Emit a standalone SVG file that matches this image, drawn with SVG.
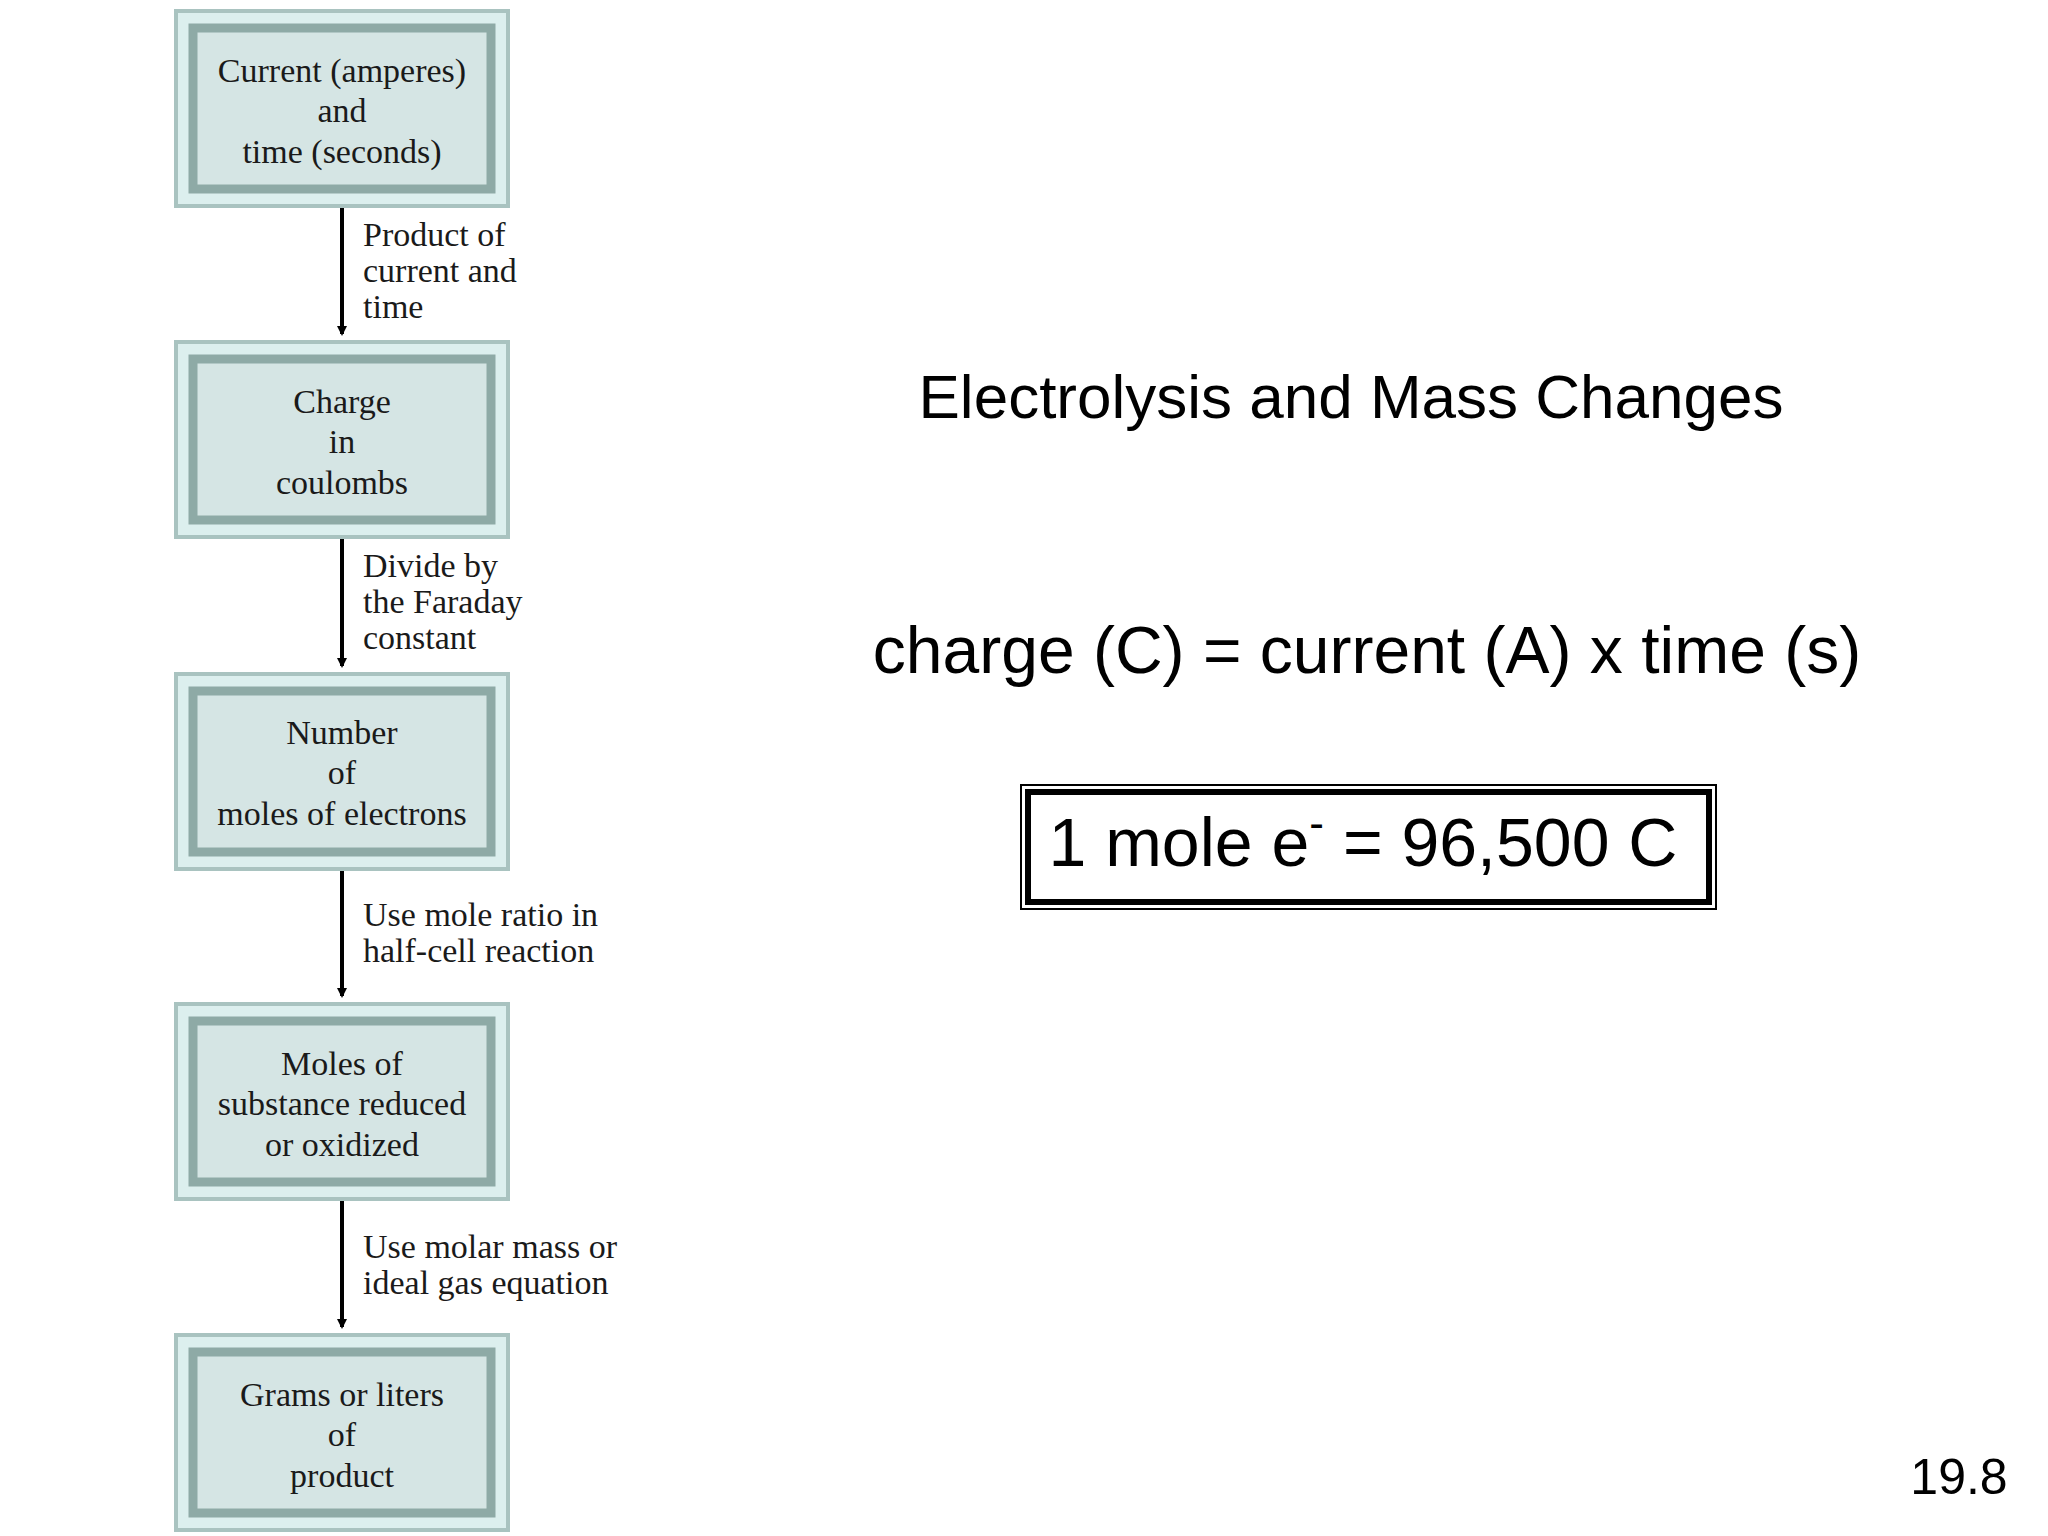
<svg xmlns="http://www.w3.org/2000/svg" width="2048" height="1536" viewBox="0 0 2048 1536">
<defs>
<style>
.o{fill:#dcefee;stroke:#a9c3c0;stroke-width:4}
.i{fill:#d5e5e4;stroke:#8eaaa6;stroke-width:9}
.bt{font-family:"Liberation Serif",serif;font-size:34px;fill:#1a1a1a;text-anchor:middle}
.lt{font-family:"Liberation Serif",serif;font-size:34px;fill:#1a1a1a}
.s{font-family:"Liberation Sans",Arial,sans-serif;fill:#000}
.c{stroke:#000;stroke-width:4;fill:none}
</style>
<marker id="ah" markerWidth="10" markerHeight="10" refX="8" refY="5" orient="auto" markerUnits="userSpaceOnUse" viewBox="0 0 10 10"><path d="M0,0 L10,5 L0,10 z" fill="#000"/></marker>
</defs>
<rect width="2048" height="1536" fill="#fff"/>
<g id="n1"><rect class="o" x="176" y="11" width="332" height="195"/><rect class="i" x="193" y="28" width="298" height="161"/>
<text class="bt" x="342" y="82">Current (amperes)</text><text class="bt" x="342" y="122">and</text><text class="bt" x="342" y="163">time (seconds)</text></g>
<g id="n2"><rect class="o" x="176" y="342" width="332" height="195"/><rect class="i" x="193" y="359" width="298" height="161"/>
<text class="bt" x="342" y="413">Charge</text><text class="bt" x="342" y="453">in</text><text class="bt" x="342" y="494">coulombs</text></g>
<g id="n3"><rect class="o" x="176" y="674" width="332" height="195"/><rect class="i" x="193" y="691" width="298" height="161"/>
<text class="bt" x="342" y="744">Number</text><text class="bt" x="342" y="784">of</text><text class="bt" x="342" y="825">moles of electrons</text></g>
<g id="n4"><rect class="o" x="176" y="1004" width="332" height="195"/><rect class="i" x="193" y="1021" width="298" height="161"/>
<text class="bt" x="342" y="1075">Moles of</text><text class="bt" x="342" y="1115">substance reduced</text><text class="bt" x="342" y="1156">or oxidized</text></g>
<g id="n5"><rect class="o" x="176" y="1335" width="332" height="195"/><rect class="i" x="193" y="1352" width="298" height="161"/>
<text class="bt" x="342" y="1406">Grams or liters</text><text class="bt" x="342" y="1446">of</text><text class="bt" x="342" y="1487">product</text></g>
<g id="connectors">
<line class="c" x1="342" y1="208" x2="342" y2="334" marker-end="url(#ah)"/>
<line class="c" x1="342" y1="539" x2="342" y2="666" marker-end="url(#ah)"/>
<line class="c" x1="342" y1="871" x2="342" y2="996" marker-end="url(#ah)"/>
<line class="c" x1="342" y1="1201" x2="342" y2="1327" marker-end="url(#ah)"/>
<text class="lt" x="363" y="246">Product of</text><text class="lt" x="363" y="282">current and</text><text class="lt" x="363" y="318">time</text>
<text class="lt" x="363" y="577">Divide by</text><text class="lt" x="363" y="613">the Faraday</text><text class="lt" x="363" y="649">constant</text>
<text class="lt" x="363" y="926">Use mole ratio in</text><text class="lt" x="363" y="962">half-cell reaction</text>
<text class="lt" x="363" y="1258">Use molar mass or</text><text class="lt" x="363" y="1294">ideal gas equation</text>
</g>
<text class="s" x="1351" y="418" font-size="62" text-anchor="middle">Electrolysis and Mass Changes</text>
<text class="s" x="1367" y="673" font-size="66" text-anchor="middle">charge (C) = current (A) x time (s)</text>
<rect x="1021" y="785" width="695" height="124" fill="none" stroke="#000" stroke-width="2"/>
<rect x="1028" y="792" width="681" height="110" fill="none" stroke="#000" stroke-width="6"/>
<text class="s" x="1363" y="866" font-size="68" text-anchor="middle">1 mole e<tspan font-size="44" dy="-28">-</tspan><tspan dy="28"> = 96,500 C</tspan></text>
<text class="s" x="1959" y="1494" font-size="50" text-anchor="middle">19.8</text>
</svg>
